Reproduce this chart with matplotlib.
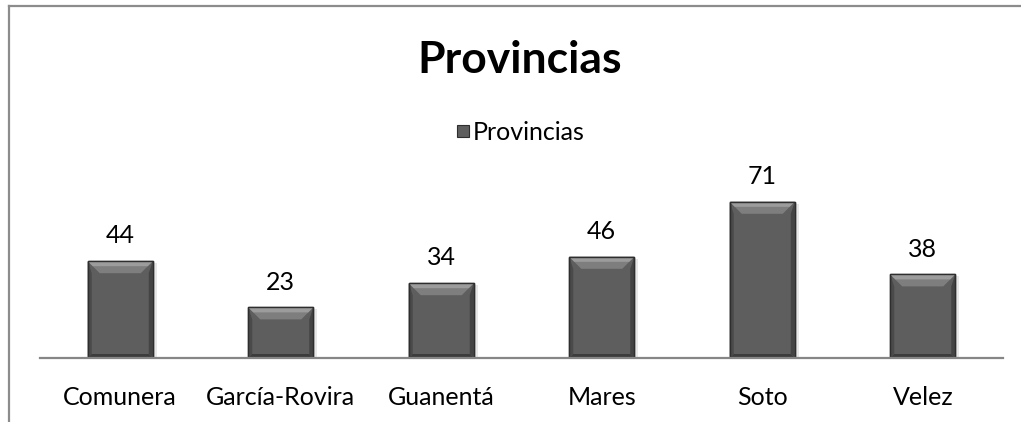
import matplotlib
matplotlib.use("Agg")
import matplotlib.pyplot as plt
from matplotlib.patches import Polygon, Rectangle
from matplotlib.lines import Line2D

provincias = ["Comunera", "García-Rovira", "Guanentá", "Mares", "Soto", "Velez"]
valores = [44, 23, 34, 46, 71, 38]

plt.rcParams['font.family'] = ['Lato', 'DejaVu Sans']

W, H = 1021, 422
fig = plt.figure(figsize=(W / 100, H / 100), dpi=100)

# chart frame (only top and left edges visible in the crop)
fig.add_artist(Line2D([9 / W, 9 / W], [0, 1 - 6 / H], color="#8c8c8c", lw=1.6))
fig.add_artist(Line2D([9 / W, 1], [1 - 6 / H, 1 - 6 / H], color="#8c8c8c", lw=1.6))

ax = fig.add_axes([40 / W, 64 / H, 963 / W, 220 / H])
x = list(range(len(provincias)))
width = 0.405
bars = ax.bar(x, valores, width=width, color="#5e5e5e", edgecolor="#2e2e2e",
              linewidth=1.0, zorder=3)
ax.set_xlim(-0.5, len(provincias) - 0.5)
ax.set_ylim(0, 100)

# pixel -> data scale to draw the bevel
sx = (len(provincias)) / 963
sy = 100 / 220
for b in bars:
    x0, w, h = b.get_x(), b.get_width(), b.get_height()
    bt, bs = 12, 4
    # top bevel
    ax.add_patch(Polygon([(x0, h), (x0 + w, h), (x0 + w - bt * sx, h - bt * sy),
                          (x0 + bt * sx, h - bt * sy)], closed=True,
                         facecolor="#7e7e7e", edgecolor="none", zorder=4))
    ax.add_patch(Polygon([(x0, h), (x0 + w, h), (x0 + w - 5 * sx, h - 5 * sy),
                          (x0 + 5 * sx, h - 5 * sy)], closed=True,
                         facecolor="#9c9c9c", edgecolor="none", zorder=4))
    # side bevels
    ax.add_patch(Polygon([(x0, h), (x0 + bs * sx, h - bt * sy), (x0 + bs * sx, bs * sy),
                          (x0, 0)], closed=True, facecolor="#4a4a4a",
                         edgecolor="none", zorder=4))
    ax.add_patch(Polygon([(x0 + w, h), (x0 + w - bs * sx, h - bt * sy),
                          (x0 + w - bs * sx, bs * sy), (x0 + w, 0)], closed=True,
                         facecolor="#444444", edgecolor="none", zorder=4))
    # bottom bevel
    ax.add_patch(Polygon([(x0, 0), (x0 + w, 0), (x0 + w - bs * sx, bs * sy),
                          (x0 + bs * sx, bs * sy)], closed=True,
                         facecolor="#3c3c3c", edgecolor="none", zorder=4))
    ax.add_patch(Rectangle((x0, 0), w, h, facecolor="none", edgecolor="#2e2e2e",
                           lw=1.0, zorder=5))
    # soft shadow on the right
    ax.add_patch(Rectangle((x0 + w, 0), 4 * sx, h - 2 * sy, facecolor="#e8e8e8",
                           edgecolor="none", zorder=2))
    ax.annotate(str(int(h)), (x0 + w / 2, h), xytext=(0, 10), textcoords="offset points",
                ha="center", va="bottom", fontsize=18, color="#000000")

for s in ["top", "right", "left"]:
    ax.spines[s].set_visible(False)
ax.spines["bottom"].set_color("#868686")
ax.spines["bottom"].set_linewidth(1.6)
ax.spines["bottom"].set_zorder(6)
ax.set_yticks([])
ax.set_xticks(x)
ax.set_xticklabels(provincias, fontsize=18)
ax.tick_params(axis="x", length=0, pad=20)

fig.text(520 / W, 1 - 60 / H, "Provincias", ha="center", va="center",
         fontsize=32, fontweight="bold")
fig.add_artist(Rectangle((457 / W, 1 - 137 / H), 12 / W, 12 / H, facecolor="#5e5e5e",
                         edgecolor="#2e2e2e", lw=0.8, transform=fig.transFigure))
fig.text(473 / W, 1 - 132 / H, "Provincias", ha="left", va="center", fontsize=18)

fig.savefig("out.png", dpi=100)
